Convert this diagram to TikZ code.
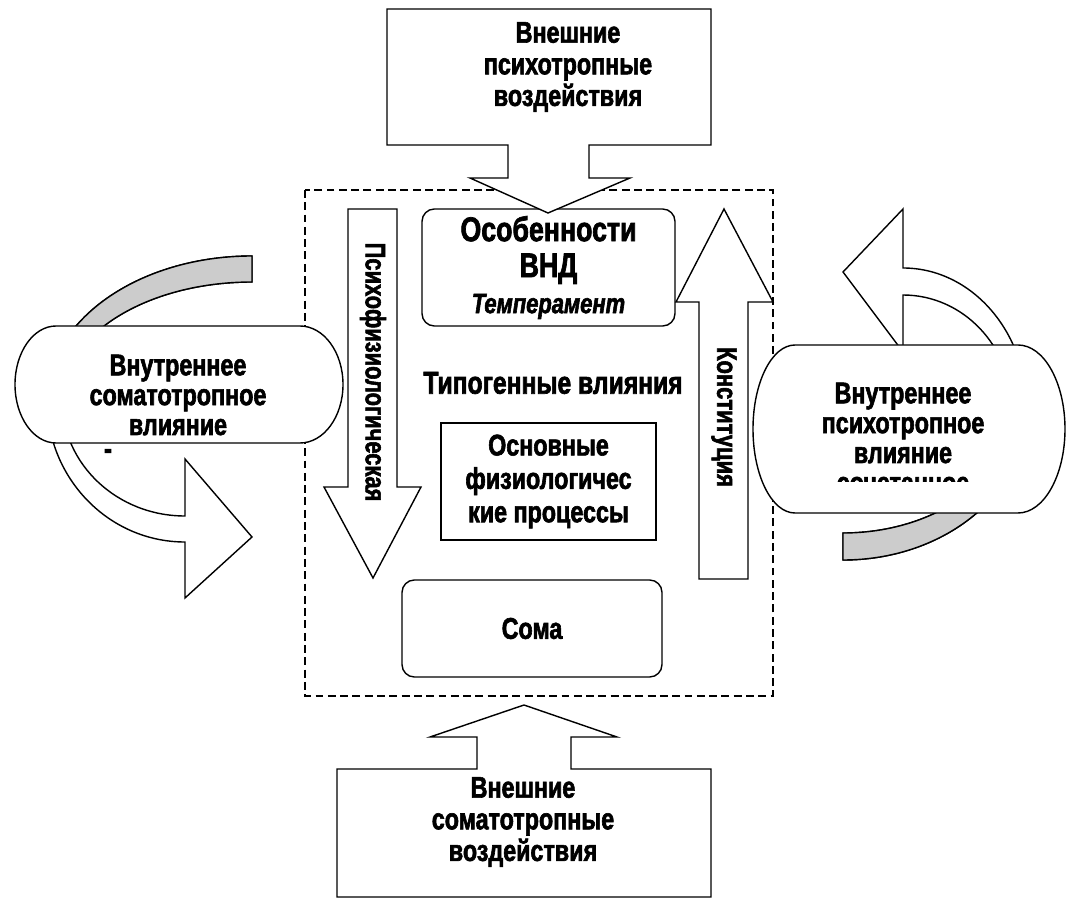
\documentclass[tikz,border=0pt]{standalone}
\usepackage{fontspec}
\setmainfont{Liberation Sans}[FakeStretch=0.78,
  BoldFeatures={FakeBold=2},
  BoldItalicFeatures={FakeBold=2}]
\usepackage{tikz}
\usetikzlibrary{%
  positioning}
\tikzset{
  %% Text styles
  lbl/.style={
    align=center, inner sep=0pt,
    font=\bfseries\fontsize{17}{18}\selectfont},
  vlbl/.style={
    align=center, inner sep=0pt, rotate=-90,
    font=\bfseries\fontsize{16}{18}\selectfont},
  %% Boxes
  roundbox/.style={
    rectangle, rounded corners=7pt,
    draw=black, line width=0.8pt, fill=white},
  plainbox/.style={
    rectangle, draw=black, line width=0.8pt, fill=white},
  pill/.style={draw=black, line width=0.8pt, fill=white},
  %% Callouts and block arrows
  callout/.style={draw=black, line width=0.8pt, fill=white},
  blockarrow/.style={draw=black, line width=0.8pt, fill=white},
  backband/.style={draw=black, line width=0.8pt, fill=black!20},
  frontband/.style={draw=black, line width=0.8pt, fill=white},
  %% Typogenic zone
  typzone/.style={
    draw=black, line width=0.7pt,
    dash pattern=on 4.5pt off 2.5pt},
}

\begin{document}
\begin{tikzpicture}[x=0.02cm, y=-0.02cm, line join=miter]
  \useasboundingbox (0,0) rectangle (1066,898);

  %% Typogenic zone
  \draw[typzone] (305,190) rectangle (773,696);

  \node[roundbox, minimum width=5.06cm, minimum height=2.34cm, align=center,
        font=\bfseries\fontsize{19.5}{20.5}\selectfont] (vnd) at (548.5,267.5)
        {Особенности\\ ВНД\\
         {\itshape\fontsize{16}{18}\selectfont Темперамент}};

  \node[lbl, font=\bfseries\fontsize{18}{19}\selectfont] (typo) at (553,383)
        {Типогенные влияния};

  \node[plainbox, minimum width=4.3cm, minimum height=2.34cm, align=center,
        font=\bfseries\fontsize{17}{19}\selectfont] (phys) at (548.5,481.5)
        {Основные\\ физиологичес\\ кие процессы};

  \node[roundbox, minimum width=5.2cm, minimum height=1.94cm,
        font=\bfseries\fontsize{17}{18}\selectfont] (soma) at (532,628.5) {Сома};

  %% Block arrows
  \draw[blockarrow] (348,209) -- (397,209) -- (397,487) -- (421,487)
        -- (373,578) -- (324,487) -- (348,487) -- cycle;
  \node[vlbl] (psyphys) at (373,372) {Психофизиологическая};

  \draw[blockarrow] (699,579) -- (748,579) -- (748,302) -- (773,302)
        -- (724,209) -- (676,302) -- (699,302) -- cycle;
  \node[vlbl] (constit) at (724,417) {Конституция};

  %% External influences
  \draw[callout] (387,9) -- (711,9) -- (711,145) -- (589,145) -- (589,178)
        -- (630,178) -- (548,213) -- (470,178) -- (508,178) -- (508,145)
        -- (387,145) -- cycle;
  \node[lbl] (extpsy) at (568,67) {Внешние\\ психотропные\\ воздействия};

  \draw[callout] (337,769) -- (477,769) -- (477,737) -- (430,737)
        -- (524,705) -- (617,737) -- (571,737) -- (571,769) -- (711,769)
        -- (711,897) -- (337,897) -- cycle;
  \node[lbl] (extsom) at (523,822) {Внешние\\ соматотропные\\ воздействия};

  %% Left curved arrow
  \draw[frontband] (252,256) .. controls (138.8,256) and (47,320.5) .. (47,400)
        .. controls (47,478.4) and (108.8,542) .. (185,542)
        -- (185,598) -- (252,537) -- (185,459) -- (185,516)
        .. controls (117.1,516) and (62,464.1) .. (62,400)
        .. controls (62,334.8) and (147.1,282) .. (252,282) -- cycle;
  \draw[backband] (252,256) .. controls (138.8,256) and (47,320.5) .. (47,400)
        -- (62,400) .. controls (62,334.8) and (147.1,282) .. (252,282) -- cycle;

  %% Right curved arrow
  \draw[frontband] (903,268) .. controls (971.5,268) and (1027,331.6) .. (1027,410)
        .. controls (1027,492.8) and (944.6,560) .. (843,560)
        -- (843,533) .. controls (936.3,533) and (1012,477.9) .. (1012,410)
        .. controls (1012,346.5) and (963.2,295) .. (903,295)
        -- (903,352) -- (843,272) -- (903,209) -- cycle;
  \draw[backband] (1027,410) .. controls (1027,492.8) and (944.6,560) .. (843,560)
        -- (843,533) .. controls (936.3,533) and (1012,477.9) .. (1012,410) -- cycle;

  %% Inner influences
  \draw[pill] (56,326) -- (300,326)
        .. controls (323.7,326) and (343,352.2) .. (343,384.5)
        .. controls (343,416.8) and (323.7,443) .. (300,443) -- (56,443)
        .. controls (33.4,443) and (15,416.8) .. (15,384.5)
        .. controls (15,352.2) and (33.4,326) .. (56,326) -- cycle;
  \node[lbl, font=\bfseries\fontsize{17}{17}\selectfont] (somint) at (178,395)
        {Внутреннее\\ соматотропное\\ влияние};
  \node[lbl] (somdash) at (108,454) {-};

  \draw[pill] (795,345) -- (1018,345)
        .. controls (1044,345) and (1065,382.6) .. (1065,429)
        .. controls (1065,475.4) and (1044,513) .. (1018,513) -- (795,513)
        .. controls (771.8,513) and (753,475.4) .. (753,429)
        .. controls (753,382.6) and (771.8,345) .. (795,345) -- cycle;
  \node[lbl, font=\bfseries\fontsize{17}{17}\selectfont] (psyint) at (903,423)
        {Внутреннее\\ психотропное\\ влияние};
  \begin{scope}
    \clip (820,470) rectangle (990,482);
    \node[lbl] (psycut) at (903,485) {сочетанное};
  \end{scope}

\end{tikzpicture}
\end{document}
